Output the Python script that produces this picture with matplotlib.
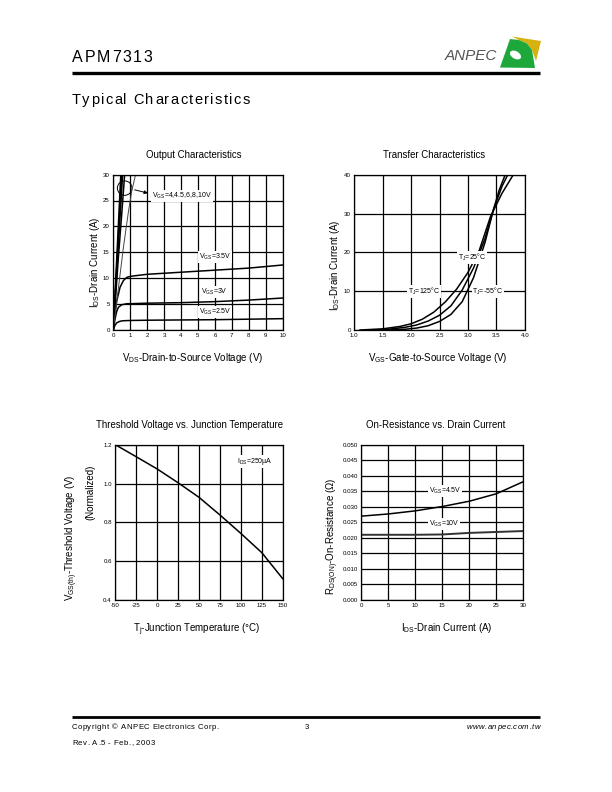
import matplotlib
import matplotlib.pyplot as plt
from matplotlib.patches import Ellipse, Polygon

matplotlib.use("Agg")

plt.rcParams["font.family"] = ["Liberation Sans", "DejaVu Sans"]
plt.rcParams["mathtext.fontset"] = "custom"
plt.rcParams["mathtext.rm"] = "Liberation Sans"
plt.rcParams["mathtext.it"] = "Liberation Sans:italic"
plt.rcParams["mathtext.default"] = "regular"

# --- Output Characteristics (VDS, ID) ---
vds_10v = [0, 0.2, 0.45]
id_10v = [0, 13.5, 30.5]
vds_8v = [0, 0.25, 0.5]
id_8v = [0, 15, 30.5]
vds_6v = [0, 0.3, 0.56]
id_6v = [0, 16.5, 30.5]
vds_45v = [0, 0.3, 0.5, 0.68]
id_45v = [0, 14, 22.5, 30.5]
vds_4v = [0, 0.3, 0.6, 0.9, 1.1, 1.35]
id_4v = [0, 8, 16, 23, 27, 30.5]
vds_35v = [0, 0.1, 0.2, 0.4, 0.6, 0.8, 1, 1.5, 2, 4, 6, 8, 10]
id_35v = [0, 3, 5.5, 8.2, 9.5, 10.1, 10.3, 10.5, 10.7, 11.1, 11.5, 11.9, 12.5]
vds_3v = [0, 0.1, 0.2, 0.3, 0.5, 0.8, 1, 2, 4, 6, 8, 10]
id_3v = [0, 2, 3.5, 4.3, 4.8, 5.0, 5.0, 5.1, 5.2, 5.4, 5.7, 6.1]
vds_25v = [0, 0.1, 0.2, 0.4, 0.6, 1, 2, 4, 6, 8, 10]
id_25v = [0, 0.8, 1.3, 1.6, 1.7, 1.75, 1.8, 1.85, 1.9, 2.0, 2.1]

# --- Transfer Characteristics (VGS, ID) ---
vgs_125 = [1.1, 1.5, 1.8, 2.0, 2.2, 2.4, 2.6, 2.8, 3.0, 3.2, 3.4, 3.6, 3.82]
id_125 = [0, 0.3, 0.9, 1.6, 2.8, 4.6, 7.2, 10.5, 14.8, 20.5, 29.3, 35.2, 40.5]
vgs_25 = [1.35, 1.6, 1.9, 2.1, 2.3, 2.5, 2.7, 2.9, 3.1, 3.3, 3.45, 3.6, 3.72]
id_25 = [0, 0.2, 0.7, 1.3, 2.3, 3.8, 6.2, 10.3, 16, 23.5, 31, 37, 40.5]
vgs_m55 = [1.6, 1.9, 2.1, 2.3, 2.5, 2.7, 2.9, 3.1, 3.3, 3.45, 3.55, 3.67]
id_m55 = [0, 0.2, 0.5, 1.1, 2.2, 4.0, 7.3, 13.5, 22.5, 31, 36, 40.5]

# --- Threshold Voltage vs. Tj ---
tj = [-50, -25, 0, 25, 50, 75, 100, 125, 150]
vth_norm = [1.2, 1.138, 1.075, 1.004, 0.929, 0.838, 0.743, 0.644, 0.51]

# --- On-Resistance vs. Drain Current ---
id_ron = [0, 5, 10, 15, 20, 25, 30]
ron_45v = [0.0270, 0.0277, 0.0287, 0.0301, 0.0318, 0.0342, 0.0381]
ron_10v = [0.0210, 0.0210, 0.0210, 0.0211, 0.0216, 0.0219, 0.0222]

W, H = 612, 792
fig = plt.figure(figsize=(W / 100, H / 100), dpi=100)
page = fig.add_axes([0, 0, 1, 1])
page.set_xlim(0, W)
page.set_ylim(H, 0)
page.axis("off")
renderer = fig.canvas.get_renderer()


def texto_espaciado(x, y, s, extra, align="left", **kw):
    # dibuja letra por letra para imitar el espaciado del pdf
    piezas = []
    pos = x
    for ch in s:
        t = page.text(pos, y, ch, va="baseline", ha="left", **kw)
        bb = t.get_window_extent(renderer)
        ancho = bb.width if ch != " " else kw.get("fontsize", 10) * 0.278 * 100 / 72
        piezas.append(t)
        pos += ancho + extra
    total = pos - extra - x
    if align == "right":
        for t in piezas:
            t.set_x(t.get_position()[0] - total)
    return total


def caja(l, t, r, b, xlim, ylim, xticks, yticks, xlabels, ylabels):
    ax = fig.add_axes([l / W, 1 - b / H, (r - l) / W, (b - t) / H])
    ax.set_xlim(*xlim)
    ax.set_ylim(*ylim)
    ax.set_xticks(xticks)
    ax.set_yticks(yticks)
    ax.set_xticklabels(xlabels)
    ax.set_yticklabels(ylabels)
    ax.grid(True, color="black", lw=0.9)
    ax.set_axisbelow(True)
    ax.tick_params(length=0, labelsize=4.4, pad=2.5)
    for sp in ax.spines.values():
        sp.set_linewidth(0.9)
    return ax


lw = 1.1
bbox_b = dict(facecolor="white", edgecolor="none", pad=0.6)

# ---------------- Output Characteristics ----------------
ax1 = caja(113.3, 174.7, 282.7, 329.5, (0, 10), (0, 30),
           range(0, 11), range(0, 31, 5),
           [str(v) for v in range(0, 11)], [str(v) for v in range(0, 31, 5)])
for xs, ys in [(vds_10v, id_10v), (vds_8v, id_8v), (vds_6v, id_6v),
               (vds_45v, id_45v), (vds_35v, id_35v),
               (vds_3v, id_3v), (vds_25v, id_25v)]:
    ax1.plot(xs, ys, color="black", lw=lw)
ax1.plot(vds_4v, id_4v, color="#444444", lw=0.7)
ax1.add_patch(Ellipse((0.67, 27.4), 0.86, 2.8, fill=False, ec="black", lw=0.7))
ax1.annotate("", xy=(2.2, 26.3), xytext=(1.1, 27.2),
             arrowprops=dict(arrowstyle="-|>", color="black", lw=0.7,
                             mutation_scale=5))
ax1.text(2.3, 25.8, r"V$_{GS}$=4,4.5,6,8,10V", fontsize=5, va="center", bbox=bbox_b)
ax1.text(5.05, 14.0, r"V$_{GS}$=3.5V", fontsize=5, va="center", bbox=bbox_b)
ax1.text(5.2, 7.3, r"V$_{GS}$=3V", fontsize=5, va="center", bbox=bbox_b)
ax1.text(5.05, 3.4, r"V$_{GS}$=2.5V", fontsize=5, va="center", bbox=bbox_b)

# ---------------- Transfer Characteristics ----------------
ax2 = caja(354.3, 174.7, 524.7, 330, (1.0, 4.0), (0, 40),
           [1.0, 1.5, 2.0, 2.5, 3.0, 3.5, 4.0], range(0, 41, 10),
           ["1.0", "1.5", "2.0", "2.5", "3.0", "3.5", "4.0"],
           [str(v) for v in range(0, 41, 10)])
for xs, ys in [(vgs_125, id_125), (vgs_25, id_25), (vgs_m55, id_m55)]:
    ax2.plot(xs, ys, color="black", lw=lw)
ax2.text(2.82, 18.6, r"T$_J$=25°C", fontsize=5, va="center", bbox=bbox_b)
ax2.text(1.95, 9.9, r"T$_J$=125°C", fontsize=5, va="center", bbox=bbox_b)
ax2.text(3.08, 9.9, r"T$_J$=-55°C", fontsize=5, va="center", bbox=bbox_b)

# ---------------- Threshold Voltage ----------------
ax3 = caja(115.3, 444.7, 282.7, 600, (-50, 150), (0.4, 1.2),
           range(-50, 151, 25), [0.4, 0.6, 0.8, 1.0, 1.2],
           [str(v) for v in range(-50, 151, 25)],
           ["0.4", "0.6", "0.8", "1.0", "1.2"])
ax3.plot(tj, vth_norm, color="black", lw=lw)
ax3.text(95, 1.112, r"I$_{DS}$=250µA", fontsize=5, va="center", bbox=bbox_b)

# ---------------- On-Resistance ----------------
ron_ticks = [i * 0.005 for i in range(11)]
ax4 = caja(361.3, 444.7, 523.3, 600, (0, 30), (0, 0.05),
           range(0, 31, 5), ron_ticks,
           [str(v) for v in range(0, 31, 5)],
           ["%.3f" % v for v in ron_ticks])
ax4.plot(id_ron, ron_45v, color="black", lw=lw)
ax4.plot(id_ron, ron_10v, color="#333333", lw=lw + 0.3)
ax4.text(12.5, 0.0351, r"V$_{GS}$=4.5V", fontsize=5, va="center", bbox=bbox_b)
ax4.text(12.5, 0.0244, r"V$_{GS}$=10V", fontsize=5, va="center", bbox=bbox_b)

# titulos y etiquetas de ejes (coordenadas de pagina)
fs_t = 6.9
page.text(194, 155, "Output Characteristics", fontsize=fs_t, ha="center", va="center")
page.text(434, 155, "Transfer Characteristics", fontsize=fs_t, ha="center", va="center")
page.text(190, 425, "Threshold Voltage vs. Junction Temperature", fontsize=fs_t,
          ha="center", va="center")
page.text(436, 425, "On-Resistance vs. Drain Current", fontsize=fs_t,
          ha="center", va="center")

fs_l = 7
page.text(192.5, 358, r"V$_{DS}$-Drain-to-Source Voltage (V)", fontsize=fs_l,
          ha="center", va="center")
page.text(438, 358, r"V$_{GS}$-Gate-to-Source Voltage (V)", fontsize=fs_l,
          ha="center", va="center")
page.text(196.7, 630, r"T$_j$-Junction Temperature (°C)", fontsize=fs_l,
          ha="center", va="center")
page.text(447, 628, r"I$_{DS}$-Drain Current (A)", fontsize=fs_l,
          ha="center", va="center")
page.text(95, 262, r"I$_{DS}$-Drain Current (A)", fontsize=fs_l, rotation=90,
          ha="center", va="center")
page.text(335, 265, r"I$_{DS}$-Drain Current (A)", fontsize=fs_l, rotation=90,
          ha="center", va="center")
page.text(72, 538, r"V$_{GS(th)}$-Threshold Voltage (V)", fontsize=fs_l, rotation=90,
          ha="center", va="center")
page.text(90, 492, "(Normalized)", fontsize=fs_l, rotation=90,
          ha="center", va="center")
page.text(333, 536, r"R$_{DS(ON)}$-On-Resistance (Ω)", fontsize=fs_l, rotation=90,
          ha="center", va="center")

# ---------------- encabezado ----------------
texto_espaciado(72, 62, "APM7313", 1.7, fontsize=11.5)
page.plot([72, 540], [72.5, 72.5], color="black", lw=2.4, solid_capstyle="butt")
texto_espaciado(72, 104, "Typical Characteristics", 1.35, fontsize=10.5)

# logo
page.text(497, 60, "ANPEC", fontsize=11, style="italic", color="#555555",
          ha="right", va="baseline")
page.add_patch(Polygon([(512, 36.5), (541, 41), (536, 61), (532, 50), (527, 43.5), (519, 40)],
                       closed=True, fc="#d6b20f", ec="none"))
page.add_patch(Polygon([(500, 67.5), (510, 39), (519, 40), (527, 43.5), (532, 50), (535, 68)],
                       closed=True, fc="#1ea83c", ec="none"))
page.add_patch(Ellipse((515.5, 55), 12, 7.5, angle=30, fc="white", ec="none"))

# ---------------- pie de pagina ----------------
page.plot([72, 540], [717, 717], color="black", lw=2.0, solid_capstyle="butt")
texto_espaciado(72, 729, "Copyright © ANPEC Electronics Corp.", 0.45, fontsize=5.6)
texto_espaciado(305, 729, "3", 0.45, fontsize=5.6)
texto_espaciado(540, 729, "www.anpec.com.tw", 0.45, align="right", fontsize=5.6,
                style="italic")
texto_espaciado(72, 745, "Rev. A.5 - Feb., 2003", 0.45, fontsize=5.6)

fig.savefig("out.png", dpi=100)
